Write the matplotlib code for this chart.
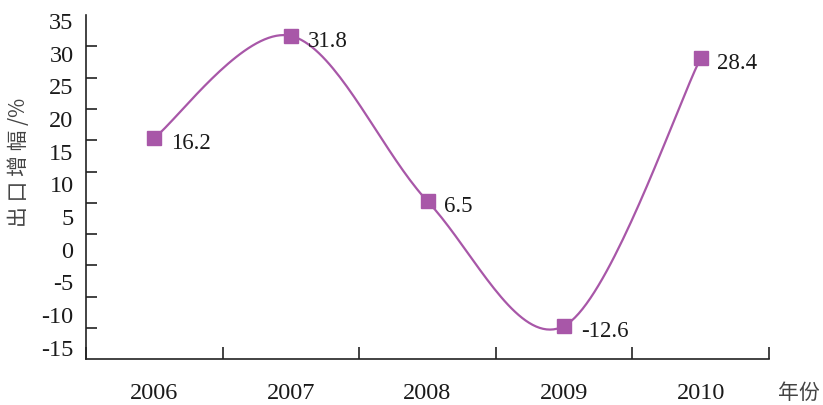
import numpy as np
import matplotlib.pyplot as plt
import matplotlib.transforms as mtransforms

years = ['2006', '2007', '2008', '2009', '2010']
growth = [16.2, 31.8, 6.5, -12.6, 28.4]
y_labels = [35, 30, 25, 20, 15, 10, 5, 0, -5, -10, -15]

purple = '#a857a8'
serif = ['Liberation Serif', 'DejaVu Serif']
cjk = ['Noto Sans CJK SC', 'DejaVu Sans']


def smooth(xs, ys, n=40):
    # excel-like smoothed line: bezier segments with catmull-rom control points
    xs = np.asarray(xs, float)
    ys = np.asarray(ys, float)
    px = np.concatenate([[xs[0]], xs, [xs[-1]]])
    py = np.concatenate([[ys[0]], ys, [ys[-1]]])
    outx, outy = [], []
    t = np.linspace(0, 1, n)
    for i in range(len(xs) - 1):
        p0 = np.array([px[i + 1], py[i + 1]])
        p3 = np.array([px[i + 2], py[i + 2]])
        c1 = p0 + (np.array([px[i + 2], py[i + 2]]) - np.array([px[i], py[i]])) / 6
        c2 = p3 - (np.array([px[i + 3], py[i + 3]]) - np.array([px[i + 1], py[i + 1]])) / 6
        b = ((1 - t) ** 3)[:, None] * p0 + (3 * (1 - t) ** 2 * t)[:, None] * c1 \
            + (3 * (1 - t) * t ** 2)[:, None] * c2 + (t ** 3)[:, None] * p3
        outx.extend(b[:, 0])
        outy.extend(b[:, 1])
    return outx, outy


fig = plt.figure(figsize=(8.23, 4.05), dpi=100)
ax = fig.add_axes([86 / 823, 1 - 359.3 / 405, (769 - 86) / 823, (359.3 - 15) / 405])

x = np.arange(len(years))
sx, sy = smooth(x, growth)
ax.plot(sx, sy, color=purple, lw=1.6, zorder=2)
ax.plot(x, growth, ls='none', marker='s', ms=10, color=purple, zorder=3)

for xi, v in zip(x, growth):
    ax.annotate(f'{v}', (xi, v), xytext=(12, -4), textcoords='offset points',
                ha='left', va='center', fontsize=16.5, family=serif, color='#1a1a1a')

ymin, ymax = -17.7, 35
ax.set_xlim(-0.5, len(years) - 0.5)
ax.set_ylim(ymin, ymax)

# y labels sit a bit lower than the tick marks, as in the original
ax.set_yticks(y_labels)
ax.set_yticklabels([str(v) for v in y_labels], family=serif, fontsize=17.5, color='#1a1a1a')
ax.set_yticks(np.linspace(ymax, ymin, 12)[:-1], minor=True)
ax.tick_params(axis='y', which='major', length=0, pad=9)
ax.tick_params(axis='y', which='minor', direction='in', length=8, width=1.2, color='#222222')
shift = mtransforms.ScaledTranslation(0, -6 / 100, fig.dpi_scale_trans)
for lab in ax.get_yticklabels():
    lab.set_transform(lab.get_transform() + shift)

ax.set_xticks(x)
ax.set_xticklabels(years, family=serif, fontsize=17.5, color='#1a1a1a')
ax.set_xticks(np.arange(-0.5, len(years)), minor=True)
ax.tick_params(axis='x', which='major', length=0, pad=17)
ax.tick_params(axis='x', which='minor', direction='in', length=9, width=1.2, color='#222222')

for side in ['top', 'right']:
    ax.spines[side].set_visible(False)
for side in ['left', 'bottom']:
    ax.spines[side].set_linewidth(1.2)
    ax.spines[side].set_color('#222222')

fig.text(19 / 823, 1 - 162 / 405, '出 口 增 幅 /%', rotation=90, ha='center', va='center',
         fontsize=15, family=cjk, color='#444444')
fig.text(799 / 823, 1 - 393 / 405, '年份', ha='center', va='center',
         fontsize=15, family=cjk, color='#444444')

fig.savefig('out.png', dpi=100)
